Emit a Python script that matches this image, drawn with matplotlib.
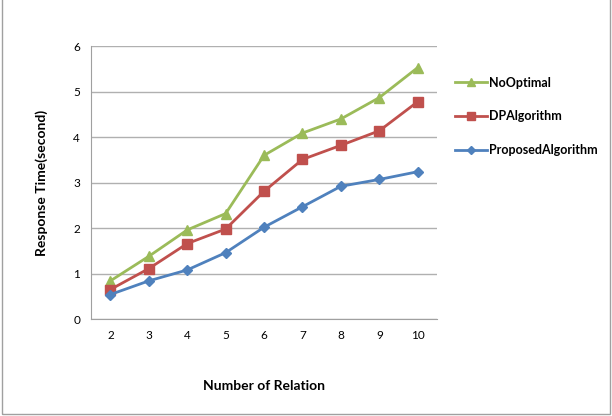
import matplotlib
matplotlib.use("Agg")
from matplotlib import pyplot as plt
from matplotlib.patches import Rectangle

plt.rcParams['font.family'] = ['Lato', 'DejaVu Sans']

relations = [2, 3, 4, 5, 6, 7, 8, 9, 10]
no_optimal = [0.84, 1.38, 1.96, 2.32, 3.60, 4.09, 4.40, 4.87, 5.53]
dp_algorithm = [0.65, 1.11, 1.66, 1.98, 2.81, 3.51, 3.82, 4.14, 4.78]
proposed = [0.54, 0.84, 1.08, 1.46, 2.02, 2.47, 2.92, 3.07, 3.24]
series_names = ['NoOptimal', 'DPAlgorithm', 'ProposedAlgorithm']

fig = plt.figure(figsize=(6.12, 4.16), dpi=100)
ax = fig.add_axes([0.149, 0.233, 0.565, 0.656])

# outer chart border
fig.patches.append(Rectangle((0.003, 0.004), 0.994, 1.2, transform=fig.transFigure,
                             fill=False, edgecolor='#a0a0a0', linewidth=1.0))

ax.plot(relations, no_optimal, color='#9BBB59', marker='^', markersize=7, linewidth=2,
        label=series_names[0], zorder=3)
ax.plot(relations, dp_algorithm, color='#C0504D', marker='s', markersize=7, linewidth=2,
        label=series_names[1], zorder=3)
ax.plot(relations, proposed, color='#4F81BD', marker='D', markersize=5, linewidth=2,
        label=series_names[2], zorder=3)

ax.set_xlim(1.5, 10.5)
ax.set_ylim(0, 6)
ax.set_xticks(relations)
ax.set_yticks(range(0, 7))
ax.yaxis.grid(True, color='#b0b0b0', linewidth=1)
ax.set_axisbelow(True)
for s in ['top', 'right']:
    ax.spines[s].set_visible(False)
ax.spines['left'].set_color('#a0a0a0')
ax.spines['bottom'].set_color('#a0a0a0')
ax.tick_params(length=0, labelsize=8.5, pad=8)

ax.set_xlabel('Number of Relation', fontsize=10, fontweight='bold', labelpad=28)
ax.set_ylabel('Response Time(second)', fontsize=10, fontweight='bold', labelpad=18)

handles, labels = ax.get_legend_handles_labels()
leg = fig.legend(handles, labels, loc='upper left', bbox_to_anchor=(0.725, 0.843),
                 frameon=False, prop={'weight': 'bold', 'size': 9}, labelspacing=1.75,
                 handlelength=2.6, handletextpad=0.1, markerscale=0.8)

fig.savefig('out.png', dpi=100)
